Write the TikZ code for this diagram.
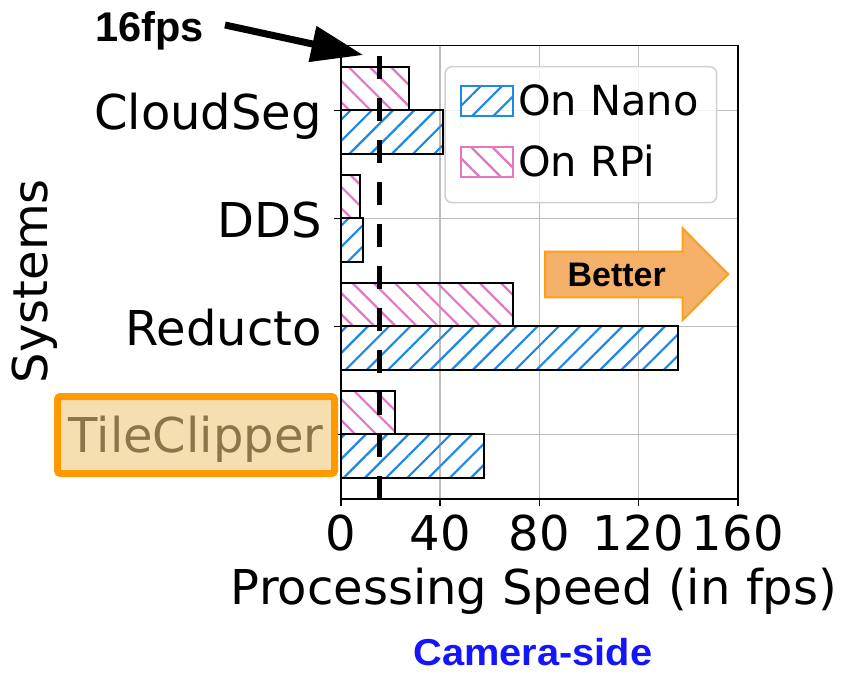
\documentclass[tikz,border=0pt]{standalone}
\usepackage{fontspec}
\setmainfont{DejaVu Sans}
\newfontfamily\annotfont{Liberation Sans}
\newfontfamily\camfont{Liberation Sans Bold}[FakeStretch=1.06]
\usetikzlibrary{patterns.meta,arrows.meta}

\definecolor{nanoblue}{RGB}{30,136,229}
\definecolor{rpipink}{RGB}{227,119,194}
\definecolor{gridgray}{RGB}{190,190,190}
\definecolor{legendedge}{RGB}{208,208,208}
\definecolor{betterfill}{RGB}{245,176,106}
\definecolor{betteredge}{RGB}{255,160,20}
\definecolor{tcorange}{RGB}{255,153,0}
\definecolor{tcfill}{RGB}{245,222,176}
\definecolor{tctext}{RGB}{140,117,72}
\definecolor{camblue}{RGB}{20,20,255}

\newcommand\axfont{\fontsize{48}{56}\selectfont}
\newcommand\legfont{\fontsize{41.5}{48}\selectfont}

\tikzset{
  nanobar/.style={pattern={Lines[angle=45,distance=15pt,line width=2.2pt]},pattern color=nanoblue},
  rpibar/.style={pattern={Lines[angle=-45,distance=15pt,line width=2.2pt]},pattern color=rpipink},
  baredge/.style={draw=black,line width=2pt},
  gridline/.style={draw=gridgray,line width=1.5pt},
  tickline/.style={draw=black,line width=1.6pt},
  ticklabel/.style={inner sep=0pt,font=\axfont},
  legtext/.style={inner sep=0pt,font=\legfont},
  annot/.style={inner sep=0pt,font=\annotfont\bfseries\fontsize{41.5}{48}\selectfont},
}

\begin{document}
\begin{tikzpicture}[x=1pt,y=-1pt]
\useasboundingbox (0,0) rectangle (852,673);

% data area: value v maps to 341 + 2.48 v
\begin{scope}[xshift=341pt,x=2.48pt]
  % grid
  \foreach \v in {40,80,120,160}
    \draw[gridline] (\v,45.5) -- (\v,499);
  \foreach \cy in {110.3,218.3,326.3,434.3}
    \draw[gridline] (0,\cy) -- (160,\cy);

  % bars: RPi above each category line, Nano below it
  \foreach \cy/\rpi/\nano in {110.3/27.5/41.3, 218.3/7.5/9, 326.3/69.5/136, 434.3/21.8/57.8}{
    \draw[baredge,rpibar] (0,\cy-43.5) rectangle (\rpi,\cy);
    \draw[baredge,nanobar] (0,\cy) rectangle (\nano,\cy+43.5);
  }

  % 16 fps threshold
  \draw[line width=4.8pt,dash pattern=on 23pt off 19pt] (15.45,499) -- (15.45,45.5);

  % frame
  \draw[tickline] (0,45.5) rectangle (160,499);

  % x ticks and labels
  \foreach \v in {0,40,80,120,160}{
    \draw[tickline] (\v,499) -- (\v,506);
    \node[ticklabel,anchor=base] (xt\v) at (\v,550) {\v};
  }
\end{scope}

% y ticks and labels
\foreach \cy in {110.3,218.3,326.3,434.3}
  \draw[tickline] (334,\cy) -- (341,\cy);
\node[ticklabel,anchor=base east] (ycloudseg) at (322,129.3) {CloudSeg};
\node[ticklabel,anchor=base east] (ydds) at (322,237.3) {DDS};
\node[ticklabel,anchor=base east] (yreducto) at (322,345.3) {Reducto};
\node[ticklabel,draw=tcorange,line width=7pt,fill=tcfill,rounded corners=3pt,
      text=tctext,minimum width=277pt,minimum height=77pt,
      text height=35pt,text depth=0pt] (ytileclipper) at (196,435) {TileClipper};

% axis titles
\node[ticklabel,anchor=base] (xtitle) at (534,604) {Processing Speed (in fps)};
\node[ticklabel,anchor=base,rotate=90] (ytitle) at (47,281) {Systems};

% legend
\draw[legendedge,line width=1.5pt,fill=white,fill opacity=0.8,rounded corners=7pt]
  (445,66.7) rectangle (716.7,202.7);
\draw[nanoblue,line width=2pt,nanobar] (460.7,86) rectangle (512.7,116);
\draw[rpipink,line width=2pt,rpibar] (460.7,147.3) rectangle (512.7,177.3);
\node[legtext,anchor=base west] (legnano) at (518,115) {On Nano};
\node[legtext,anchor=base west] (legrpi) at (518,176.7) {On RPi};

% "Better" arrow
\draw[fill=betterfill,draw=betteredge,line width=2pt,line join=miter]
  (545,251.7) -- (682.7,251.7) -- (682.7,228.3) -- (728.3,274.2)
  -- (682.7,320) -- (682.7,297.3) -- (545,297.3) -- cycle;
\node[annot,anchor=base,font=\annotfont\bfseries\fontsize{34}{40}\selectfont] (better) at (616.7,286.7) {Better};

% 16 fps callout
\node[annot,anchor=base west] (fpslabel) at (95,41.7) {16fps};
\coordinate (fpstail) at (225,25);
\coordinate (fpstip) at (363.3,55);
\draw[line width=7pt,-{Triangle[length=52pt,width=35pt]}] (fpstail) -- (fpstip);

% caption
\node[inner sep=0pt,anchor=base,text=camblue,text depth=0pt,font=\camfont\fontsize{37.5}{44}\selectfont] (camside) at (533,665) {Camera-side};
\end{tikzpicture}
\end{document}
